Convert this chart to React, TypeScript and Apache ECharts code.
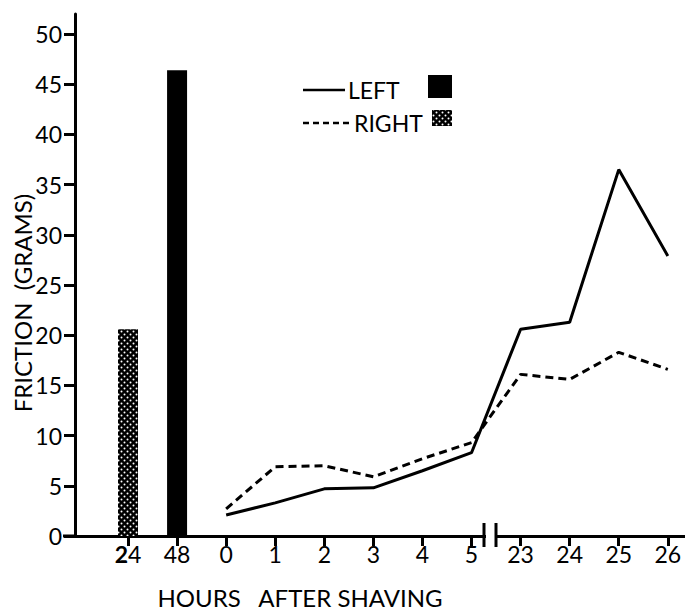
import React, { useEffect, useRef } from "react";
import * as echarts from "echarts";

const categories = ["24", "48", "0", "1", "2", "3", "4", "5", "23", "24", "25", "26"];
const leftBars = [null, 46.4, null, null, null, null, null, null, null, null, null, null];
const rightBars = [20.6, null, null, null, null, null, null, null, null, null, null, null];
const leftLine = [null, null, 2.1, 3.3, 4.7, 4.8, 6.5, 8.3, 20.6, 21.3, 36.5, 27.9];
const rightLine = [null, null, 2.7, 6.9, 7.0, 5.9, 7.7, 9.3, 16.1, 15.6, 18.3, 16.6];
const yTicks = [0, 5, 10, 15, 20, 25, 30, 35, 40, 45, 50];
const legendLabels = ["LEFT", "RIGHT"];
const xTitle = "HOURS   AFTER SHAVING";
const yTitle = "FRICTION  (GRAMS)";

const FONT = "Lato, 'DejaVu Sans', sans-serif";

function toPairs(arr: (number | null)[]) {
  const out: [number, number][] = [];
  arr.forEach((v, i) => {
    if (v !== null) out.push([i, v]);
  });
  return out;
}

function makeDots(): HTMLCanvasElement {
  const c = document.createElement("canvas");
  c.width = 6;
  c.height = 6;
  const ctx = c.getContext("2d")!;
  ctx.fillStyle = "#000";
  ctx.fillRect(0, 0, 6, 6);
  ctx.fillStyle = "#fff";
  ctx.beginPath();
  ctx.arc(1.5, 1.5, 1.0, 0, Math.PI * 2);
  ctx.fill();
  ctx.beginPath();
  ctx.arc(4.5, 4.5, 1.0, 0, Math.PI * 2);
  ctx.fill();
  return c;
}

export default function App() {
  const ref = useRef<HTMLDivElement>(null);
  useEffect(() => {
    if (!ref.current) return;
    const chart = echarts.init(ref.current, undefined, { renderer: "svg" });
    const dots = makeDots();
    const pattern: any = { image: dots, repeat: "repeat" };
    const idx = categories.map((_, i) => i);

    chart.setOption({
      animation: false,
      backgroundColor: "#fff",
      grid: { left: 75, right: 0, top: 14, bottom: 78, containLabel: false },
      xAxis: {
        type: "value",
        min: -1.08,
        max: 11.35,
        splitLine: { show: false },
        axisLine: { onZero: false, lineStyle: { color: "#000", width: 3 } },
        axisTick: {
          customValues: idx,
          length: 10,
          lineStyle: { color: "#000", width: 3 },
        },
        axisLabel: {
          customValues: idx,
          margin: 6,
          color: "#000",
          fontFamily: FONT,
          fontSize: 23,
          formatter: (v: number) => {
            const i = Math.round(v);
            if (i === 0) return "{b|" + categories[0].charAt(0) + "}{n|" + categories[0].slice(1) + "}";
            return categories[i] ?? "";
          },
          rich: {
            b: { fontFamily: FONT, fontSize: 23, fontWeight: "bold", color: "#000" },
            n: { fontFamily: FONT, fontSize: 23, color: "#000" },
          },
        },
      },
      yAxis: {
        type: "value",
        min: 0,
        max: 52,
        splitLine: { show: false },
        axisLine: { show: true, onZero: false, lineStyle: { color: "#000", width: 3 } },
        axisTick: {
          show: true,
          customValues: yTicks,
          length: 11,
          lineStyle: { color: "#000", width: 3 },
        },
        axisLabel: {
          customValues: yTicks,
          margin: 13,
          color: "#000",
          fontFamily: FONT,
          fontSize: 23,
        },
      },
      series: [
        {
          name: legendLabels[0] + " bar",
          type: "bar",
          data: toPairs(leftBars),
          barWidth: 20,
          barGap: "-100%",
          itemStyle: { color: "#000" },
        },
        {
          name: legendLabels[1] + " bar",
          type: "bar",
          data: toPairs(rightBars),
          barWidth: 20,
          barGap: "-100%",
          itemStyle: { color: pattern },
        },
        {
          name: legendLabels[0],
          type: "line",
          data: toPairs(leftLine),
          symbol: "none",
          lineStyle: { color: "#000", width: 3 },
        },
        {
          name: legendLabels[1],
          type: "line",
          data: toPairs(rightLine),
          symbol: "none",
          lineStyle: { color: "#000", width: 3, type: [8, 5] },
        },
      ],
      graphic: [
        { type: "line", z: 100, shape: { x1: 63, y1: 536, x2: 76, y2: 536 }, style: { stroke: "#000", lineWidth: 3 } },
        { type: "rect", z: 100, shape: { x: 486, y: 531, width: 9, height: 10 }, style: { fill: "#fff" } },
        { type: "line", z: 101, shape: { x1: 484, y1: 523, x2: 484, y2: 547 }, style: { stroke: "#000", lineWidth: 3 } },
        { type: "line", z: 101, shape: { x1: 496, y1: 523, x2: 496, y2: 547 }, style: { stroke: "#000", lineWidth: 3 } },
        { type: "line", z: 100, shape: { x1: 303, y1: 90, x2: 345, y2: 90 }, style: { stroke: "#000", lineWidth: 2.5 } },
        {
          type: "text", z: 100, x: 348, y: 90,
          style: { text: legendLabels[0], fill: "#000", font: `23px ${FONT}`, verticalAlign: "middle", align: "left" },
        },
        { type: "rect", z: 100, shape: { x: 428, y: 75, width: 24, height: 23 }, style: { fill: "#000" } },
        { type: "line", z: 100, shape: { x1: 303, y1: 123, x2: 352, y2: 123 }, style: { stroke: "#000", lineWidth: 2.5, lineDash: [6, 4] } },
        {
          type: "text", z: 100, x: 354, y: 123,
          style: { text: legendLabels[1], fill: "#000", font: `23px ${FONT}`, verticalAlign: "middle", align: "left" },
        },
        { type: "rect", z: 100, shape: { x: 432, y: 110, width: 20, height: 16 }, style: { fill: pattern } },
        {
          type: "text", z: 100, x: 22, y: 303, rotation: Math.PI / 2,
          style: { text: yTitle, fill: "#000", font: `24px ${FONT}`, align: "center", verticalAlign: "middle" },
        },
        {
          type: "text", z: 100, x: 300, y: 597,
          style: { text: xTitle, fill: "#000", font: `24px ${FONT}`, align: "center", verticalAlign: "middle" },
        },
      ],
    });
    return () => chart.dispose();
  }, []);
  return (
    <div
      ref={ref}
      style={{ position: "fixed", left: 0, top: 0, width: 685, height: 614, background: "#fff" }}
    />
  );
}
